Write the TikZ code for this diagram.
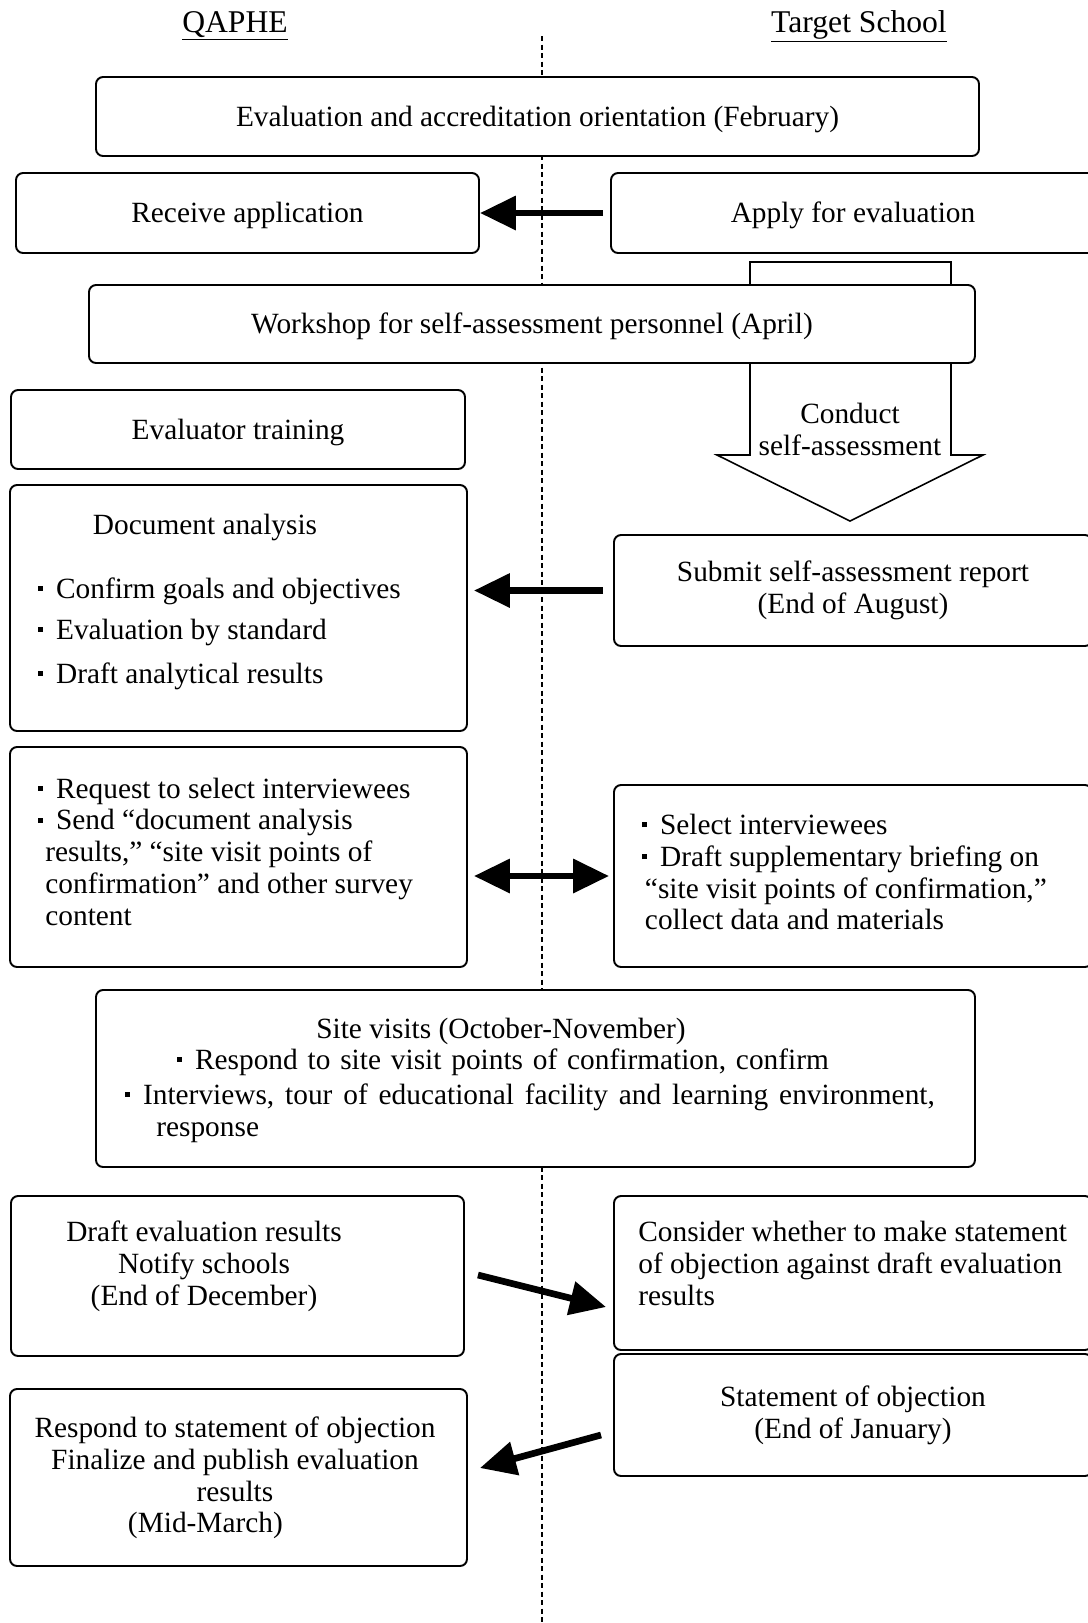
\documentclass[tikz,border=0pt]{standalone}
\usepackage{fontspec}
\setmainfont{Liberation Serif}
\usetikzlibrary{arrows.meta, positioning, calc}
\newcommand{\qafont}{\fontsize{16.7}{18.1}\selectfont}
\newcommand{\qawidefont}[1]{\qafont\spaceskip=#1 plus 1pt minus 1pt\relax}
\newcommand{\qastrut}{\rule[-3.45pt]{0pt}{18.1pt}}
\newcommand{\qadot}{\raisebox{4.1pt}{\rule{2.8pt}{2.8pt}}\hspace{7.3pt}}
\tikzset{
  qablock/.style={rectangle, rounded corners=4pt, draw=black, line width=1.1pt,
                  fill=white, align=center, inner sep=0pt, font=\qafont,
                  execute at begin node=\qastrut, execute at end node=\qastrut},
  qatext/.style={inner sep=0pt, font=\qafont,
                 execute at begin node=\qastrut, execute at end node=\qastrut},
  qawide/.style={qatext, font={\qawidefont{#1}}},
  qahead/.style={inner sep=0pt, anchor=base, font=\fontsize{18}{21}\selectfont},
  qaarrow/.style={->, >={Triangle[length=0.72cm, width=0.66cm]}, line width=3.8pt},
  qadivider/.style={line width=1pt, dash pattern=on 0.1cm off 0.07cm},
  qabig/.style={line width=0.9pt, fill=white, line join=miter},
}

\begin{document}
\begin{tikzpicture}
  \useasboundingbox (0,0) rectangle (21.76,-32.46);
  \clip (0,0) rectangle (21.76,-32.46);

  % lanes
  \node[qahead] (qaphe) at (4.70,-0.64) {\underline{QAPHE}};
  \node[qahead] (school) at (17.18,-0.64) {\underline{Target School}};
  \coordinate (divtop) at (10.84,-0.72);
  \coordinate (divbot) at (10.84,-32.46);
  \draw[qadivider] (divtop) -- (divbot);

  % self-assessment arrow, behind the workshop
  \draw[qabig] (15.00,-5.24) -- (19.02,-5.24) -- (19.02,-9.10) -- (19.66,-9.10)
    -- (17.00,-10.42) -- (14.34,-9.10) -- (15.00,-9.10) -- cycle;
  \node[qatext, align=center] (conduct) at (17.00,-8.64) {Conduct\\self-assessment};

  % boxes
  \node[qablock, minimum width=17.66cm, minimum height=1.58cm] (orient) at (10.75,-2.33)
    {Evaluation and accreditation orientation (February)};
  \node[qablock, minimum width=9.26cm, minimum height=1.60cm] (receive) at (4.95,-4.26)
    {Receive application};
  \node[qablock, minimum width=9.68cm, minimum height=1.60cm] (apply) at (17.06,-4.26)
    {Apply for evaluation};
  \node[qablock, minimum width=17.72cm, minimum height=1.56cm] (workshop) at (10.64,-6.48)
    {Workshop for self-assessment personnel (April)};
  \node[qablock, minimum width=9.08cm, minimum height=1.58cm] (training) at (4.76,-8.59)
    {Evaluator training};
  \node[qablock, minimum width=9.14cm, minimum height=4.92cm] (docana) at (4.77,-12.16) {};
  \node[qablock, minimum width=9.56cm, minimum height=2.22cm] (submit) at (17.06,-11.81)
    {Submit self-assessment report\\(End of August)};
  \node[qablock, minimum width=9.14cm, minimum height=4.40cm] (request) at (4.77,-17.14) {};
  \node[qablock, minimum width=9.56cm, minimum height=3.64cm] (select) at (17.06,-17.52) {};
  \node[qablock, minimum width=17.58cm, minimum height=3.54cm] (site) at (10.71,-21.57) {};
  \node[qablock, minimum width=9.06cm, minimum height=3.20cm] (draft) at (4.75,-25.52) {};
  \node[qablock, minimum width=9.56cm, minimum height=3.08cm] (consider) at (17.06,-25.46) {};
  \node[qablock, minimum width=9.56cm, minimum height=2.44cm] (statement) at (17.06,-28.30)
    {Statement of objection\\(End of January)};
  \node[qablock, minimum width=9.14cm, minimum height=3.54cm] (respond) at (4.77,-29.55) {};

  % document analysis
  \node[qatext, anchor=base] (docanahead) at (4.10,-10.68) {Document analysis};
  \node[qatext, anchor=base west] (docana1) at (0.76,-11.96) {\qadot Confirm goals and objectives};
  \node[qatext, anchor=base west] (docana2) at (0.76,-12.78) {\qadot Evaluation by standard};
  \node[qatext, anchor=base west] (docana3) at (0.76,-13.66) {\qadot Draft analytical results};

  % interviewees
  \node[qatext, anchor=west, align=left] (requesttxt) at (0.76,-17.09)
    {\qadot Request to select interviewees\\
     \qadot Send “document analysis\\
     \hspace*{4pt}results,” “site visit points of\\
     \hspace*{4pt}confirmation” and other survey\\
     \hspace*{4pt}content};
  \node[qatext, anchor=west, align=left] (selecttxt) at (12.84,-17.50)
    {\qadot Select interviewees\\
     \qadot Draft supplementary briefing on\\
     \hspace*{1.5pt}“site visit points of confirmation,”\\
     \hspace*{1.5pt}collect data and materials};

  % site visits
  \node[qatext, anchor=base] (sitehead) at (10.02,-20.76) {Site visits (October-November)};
  \node[qawide=5.6pt, anchor=base west] (site1) at (3.54,-21.38)
    {\qadot Respond to site visit points of confirmation, confirm};
  \node[qawide=6.2pt, anchor=base west] (site2) at (2.50,-22.08)
    {\qadot Interviews, tour of educational facility and learning environment,};
  \node[qatext, anchor=base west] (site3) at (3.12,-22.72) {response};

  % results
  \node[qatext, align=center] (drafttxt) at (4.08,-25.33)
    {Draft evaluation results\\Notify schools\\(End of December)};
  \node[qatext, anchor=west, align=left] (considertxt) at (12.76,-25.33)
    {Consider whether to make statement\\of objection against draft evaluation\\results};
  \node[qatext, align=center] (respondtxt) at (4.70,-29.56)
    {Respond to statement of objection\\Finalize and publish evaluation\\results\\
     \makebox[4.28cm][l]{(Mid-March)}};

  % flows
  \draw[qaarrow] ([xshift=-0.14cm]apply.west) -- (receive.east);
  \draw[qaarrow] ([xshift=-0.20cm]submit.west) -- ($(docana.east |- submit.west)+(0.12,0)$);
  \draw[qaarrow, <->] ($(request.east |- select.west)+(0.12,0)$) -- ([xshift=-0.08cm]select.west);
  \draw[qaarrow] ($(draft.east)+(0.26,0.02)$) -- ($(consider.west)+(-0.14,-0.68)$);
  \draw[qaarrow] ($(statement.west)+(-0.24,-0.40)$) -- ($(respond.east)+(0.24,0.19)$);
\end{tikzpicture}
\end{document}
